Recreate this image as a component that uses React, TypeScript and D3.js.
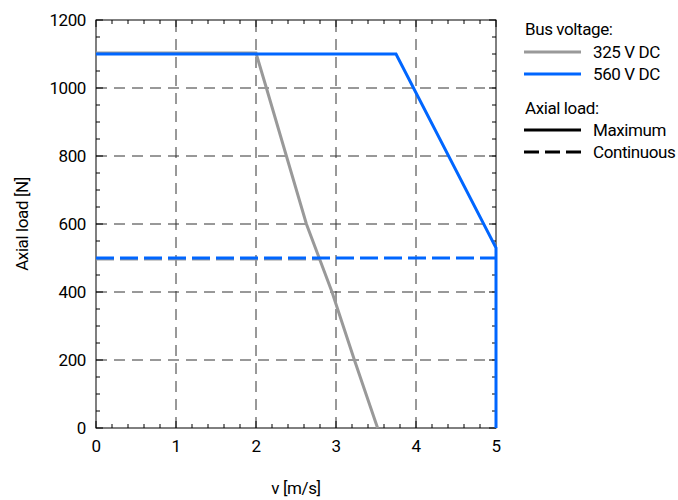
import React from "react";
import * as d3 from "d3";

const W = 678;
const H = 500;
const M = { left: 96, right: 182, top: 20, bottom: 72 };

const xTicks = [0, 1, 2, 3, 4, 5];
const yTicks = [0, 200, 400, 600, 800, 1000, 1200];

// 325 V DC, maximum axial load
const v325Max: [number, number][] = [
  [0, 1103], [2.0, 1103], [2.13, 1000], [2.38, 800], [2.63, 600],
  [2.79, 500], [2.95, 400], [3.23, 200], [3.52, 0],
];
// 325 V DC, continuous axial load
const v325Cont: [number, number][] = [[0, 497], [2.79, 497]];
// 560 V DC, maximum axial load
const v560Max: [number, number][] = [[0, 1100], [3.75, 1100], [5, 530], [5, 0]];
// 560 V DC, continuous axial load
const v560Cont: [number, number][] = [[0, 500], [5, 500]];

const GRAY = "#999999";
const BLUE = "#0066ff";
const FONT = "Roboto, sans-serif";
const FS = 17;
const LS = -0.4;

export default function App() {
  const x = d3.scaleLinear().domain([0, 5]).range([M.left, W - M.right]);
  const y = d3.scaleLinear().domain([0, 1200]).range([H - M.bottom, M.top]);
  const line = d3.line<[number, number]>().x((d) => x(d[0])).y((d) => y(d[1]));

  const x0 = x(0), x1 = x(5), y0 = y(0), y1 = y(1200);
  const xMinor = d3.range(0, 5.0001, 0.2);
  const yMinor = d3.range(0, 1200.001, 50);
  const isMajorX = (v: number) => Math.abs(v - Math.round(v)) < 1e-6;
  const isMajorY = (v: number) => Math.abs(v % 200) < 1e-6;

  return (
    <svg width={W} height={H} style={{ position: "absolute", left: 0, top: 0, background: "#fff" }} fontFamily={FONT} letterSpacing={LS}>
      <rect width={W} height={H} fill="#fff" />
      {/* grid */}
      {xTicks.slice(1, -1).map((t) => (
        <line key={"gx" + t} x1={x(t)} x2={x(t)} y1={y0} y2={y1} stroke="#333" strokeWidth={1} strokeDasharray="11 7" />
      ))}
      {yTicks.slice(1, -1).map((t) => (
        <line key={"gy" + t} x1={x0} x2={x1} y1={y(t)} y2={y(t)} stroke="#333" strokeWidth={1} strokeDasharray="11 7" />
      ))}
      {/* ticks */}
      {xMinor.map((t) => {
        const L = isMajorX(t) ? 7 : 4;
        return (
          <g key={"tx" + t}>
            <line x1={x(t)} x2={x(t)} y1={y0} y2={y0 - L} stroke="#000" />
            <line x1={x(t)} x2={x(t)} y1={y1} y2={y1 + L} stroke="#000" />
          </g>
        );
      })}
      {yMinor.map((t) => {
        const L = isMajorY(t) ? 7 : 4;
        return (
          <g key={"ty" + t}>
            <line x1={x0} x2={x0 + L} y1={y(t)} y2={y(t)} stroke="#000" />
            <line x1={x1} x2={x1 - L} y1={y(t)} y2={y(t)} stroke="#000" />
          </g>
        );
      })}
      <rect x={x0} y={y1} width={x1 - x0} height={y0 - y1} fill="none" stroke="#000" strokeWidth={1} />
      {/* data */}
      <path d={line(v325Max) || ""} fill="none" stroke={GRAY} strokeWidth={3} />
      <path d={line(v325Cont) || ""} fill="none" stroke={GRAY} strokeWidth={3} strokeDasharray="18 6" />
      <path d={line(v560Max) || ""} fill="none" stroke={BLUE} strokeWidth={3} />
      <path d={line(v560Cont) || ""} fill="none" stroke={BLUE} strokeWidth={3} strokeDasharray="18 6" />
      {/* tick labels */}
      {xTicks.map((t) => (
        <text key={"lx" + t} x={x(t)} y={y0 + 24} textAnchor="middle" fontSize={FS} fill="#000">{t}</text>
      ))}
      {yTicks.map((t) => (
        <text key={"ly" + t} x={x0 - 10} y={y(t) + 6} textAnchor="end" fontSize={FS} fill="#000">{t}</text>
      ))}
      <text x={(x0 + x1) / 2} y={494} textAnchor="middle" fontSize={FS} fill="#000">v [m/s]</text>
      <text transform={`translate(28,${(y0 + y1) / 2}) rotate(-90)`} textAnchor="middle" fontSize={FS} fill="#000">Axial load [N]</text>
      {/* legend */}
      <g fontSize={FS} fill="#000">
        <text x={525} y={35}>Bus voltage:</text>
        <line x1={524} x2={581} y1={52} y2={52} stroke={GRAY} strokeWidth={3} />
        <text x={593} y={58}>325 V DC</text>
        <line x1={524} x2={581} y1={74} y2={74} stroke={BLUE} strokeWidth={3} />
        <text x={593} y={80}>560 V DC</text>
        <text x={525} y={114}>Axial load:</text>
        <line x1={524} x2={581} y1={130} y2={130} stroke="#000" strokeWidth={3} />
        <text x={593} y={136}>Maximum</text>
        <line x1={524} x2={581} y1={152} y2={152} stroke="#000" strokeWidth={3} strokeDasharray="15 6" />
        <text x={593} y={158}>Continuous</text>
      </g>
    </svg>
  );
}
